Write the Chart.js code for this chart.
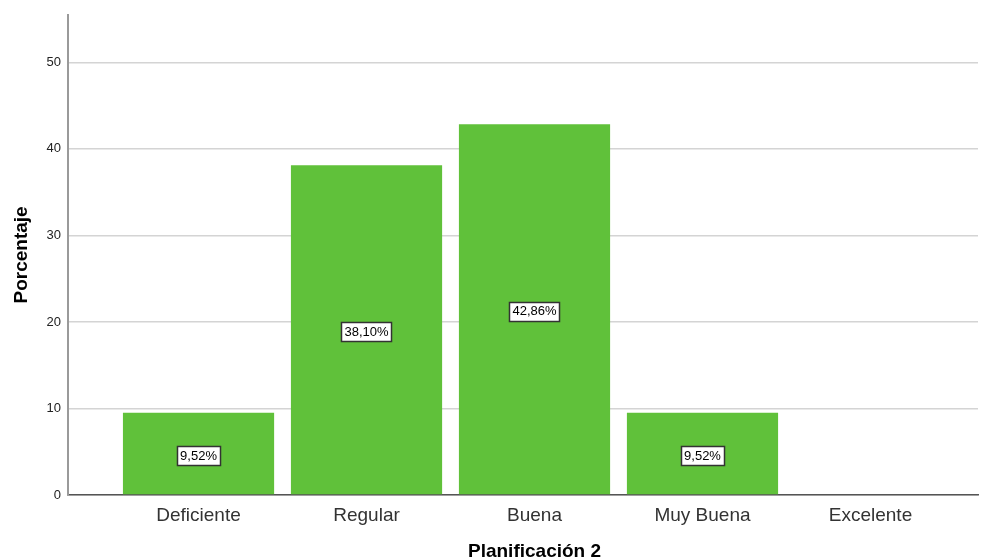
<!DOCTYPE html>
<html><head><meta charset="utf-8">
<script src="https://cdn.jsdelivr.net/npm/chart.js@4.4.1/dist/chart.umd.min.js"></script>
<style>html,body{margin:0;padding:0;background:#fff}#wrap{width:989px;height:560px}</style>
</head><body><div id="wrap"><canvas id="c" width="989" height="560"></canvas></div>
<script>
const categories = ["Deficiente", "Regular", "Buena", "Muy Buena", "Excelente"];
const values = [9.52, 38.10, 42.86, 9.52, 0];
const valueLabels = ["9,52%", "38,10%", "42,86%", "9,52%", ""];
const yTicks = [0, 10, 20, 30, 40, 50];
const xTitle = "Planificación 2";
const yTitle = "Porcentaje";

const FONT = "'Liberation Sans', Arial, sans-serif";

const labelPlugin = {
  id: 'boxLabels',
  afterDatasetsDraw(chart) {
    const ctx = chart.ctx;
    const meta = chart.getDatasetMeta(0);
    ctx.save();
    ctx.font = "13px " + FONT;
    ctx.textAlign = 'center';
    ctx.textBaseline = 'middle';
    meta.data.forEach((bar, i) => {
      const t = valueLabels[i];
      if (!t || values[i] <= 0) return;
      const cx = bar.x;
      const cy = (bar.y + bar.base) / 2 + 2;
      const w = ctx.measureText(t).width + 6;
      const h = 19;
      const x0 = Math.round(cx - w / 2) + 0.5, y0 = Math.round(cy - h / 2) + 0.5;
      ctx.fillStyle = '#fff';
      ctx.fillRect(x0, y0, Math.round(w), h);
      ctx.strokeStyle = '#333';
      ctx.lineWidth = 1.5;
      ctx.strokeRect(x0, y0, Math.round(w), h);
      ctx.fillStyle = '#000';
      ctx.fillText(t, cx, cy + 0.5);
    });
    ctx.restore();
  }
};

const titlePlugin = {
  id: 'axisTitles',
  afterDraw(chart) {
    const ctx = chart.ctx;
    const xs = chart.scales.x;
    ctx.save();
    ctx.fillStyle = '#000';
    ctx.font = "bold 19px " + FONT;
    ctx.textAlign = 'center';
    ctx.textBaseline = 'alphabetic';
    const cx = (xs.getPixelForValue(-0.5) + xs.getPixelForValue(categories.length - 0.5)) / 2;
    ctx.fillText(xTitle, cx, 557);
    ctx.translate(27, (chart.chartArea.top + chart.chartArea.bottom) / 2);
    ctx.rotate(-Math.PI / 2);
    ctx.fillText(yTitle, 0, 0);
    ctx.restore();
  }
};

new Chart(document.getElementById('c'), {
  type: 'bar',
  data: {
    datasets: [{
      data: values.map((v, i) => ({ x: i, y: v })),
      backgroundColor: '#60c13a',
      borderWidth: 0,
      barPercentage: 0.9,
      categoryPercentage: 1.0
    }]
  },
  options: {
    responsive: false,
    animation: false,
    layout: { padding: { left: 0, right: 11, top: 14, bottom: 0 } },
    plugins: { legend: { display: false }, tooltip: { enabled: false } },
    scales: {
      x: {
        type: 'linear',
        offset: false,
        min: -0.777,
        max: 4.64,
        afterBuildTicks(s) { s.ticks = categories.map((c, i) => ({ value: i })); },
        afterFit(s) { s.height = 65; },
        grid: { display: false, drawTicks: false },
        border: { display: true, color: '#555', width: 1.5 },
        ticks: {
          padding: 9,
          color: '#333',
          font: { family: FONT, size: 19 },
          callback: (v) => categories[v] ?? ''
        }
      },
      y: {
        min: 0,
        max: 55.5,
        afterBuildTicks(s) { s.ticks = yTicks.map(v => ({ value: v })); },
        afterFit(s) { s.width = 68; },
        grid: { color: '#d4d4d4', lineWidth: 1.5, drawTicks: false },
        border: { display: true, color: '#9a9a9a', width: 2 },
        ticks: {
          padding: 7,
          color: '#222',
          font: { family: FONT, size: 13 }
        }
      }
    }
  },
  plugins: [labelPlugin, titlePlugin]
});
</script></body></html>
